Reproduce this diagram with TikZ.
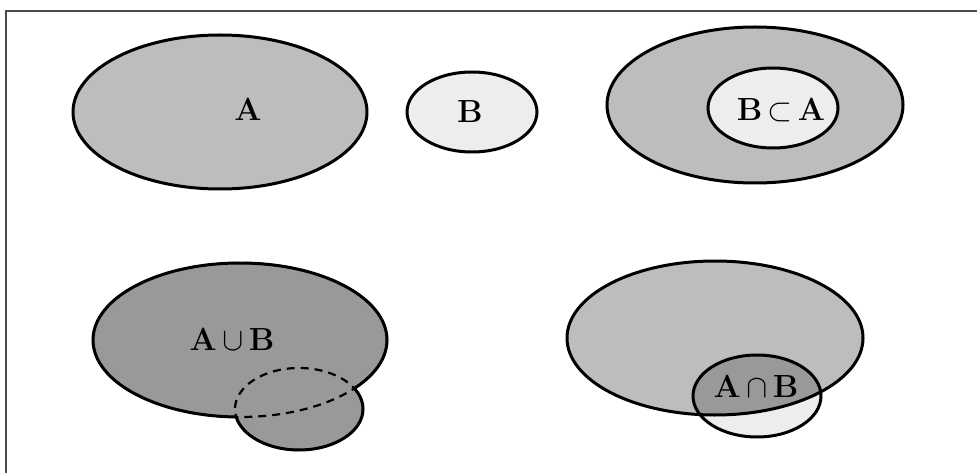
\documentclass[tikz,border=0pt]{standalone}
\usepackage{fontspec}
\usepackage{unicode-math}
\begin{document}
\begin{tikzpicture}[x=1pt,y=-1pt,
  outline/.style={draw=black,line width=3pt},
  densefill/.style={fill=dense},
  sparsefill/.style={fill=sparse},
  hatchfill/.style={fill=hatch},
  lbl/.style={font=\fontsize{32}{36}\selectfont\bfseries,inner sep=0pt}]
\definecolor{dense}{gray}{0.74}
\definecolor{sparse}{gray}{0.93}
\definecolor{hatch}{gray}{0.60}
\definecolor{framec}{gray}{0.30}
\useasboundingbox (0,0) rectangle (977,473);
\fill[white] (0,0) rectangle (977,473);
% frame
\coordinate (fbl) at (6,473);
\coordinate (ftl) at (6,11);
\coordinate (ftr) at (977,11);
\draw[framec,line width=2.4pt] (fbl) -- (ftl) -- (ftr);

% top-left: A
\coordinate (cA) at (220,112);
\path[densefill,outline] (cA) ellipse (147 and 77);
\node[lbl] (lA) at (248,109) {A};

% top-middle: B
\coordinate (cB) at (472,112);
\path[sparsefill,outline] (cB) ellipse (65 and 40);
\node[lbl] (lB) at (470,112) {B};

% top-right: B subset A
\coordinate (cA2) at (755,105);
\coordinate (cB2) at (773,108);
\path[densefill,outline] (cA2) ellipse (148 and 78);
\path[sparsefill,outline] (cB2) ellipse (65 and 40);
\node[lbl] (lBA) at (781,110) {B\,$\subset$\,A};

% bottom-left: union
\coordinate (cA3) at (240,340);
\coordinate (cB3) at (299,409);
\path[hatchfill] (cA3) ellipse (147 and 77);
\path[hatchfill] (cB3) ellipse (64 and 41);
\draw[line width=2.2pt,dash pattern=on 8pt off 6pt] (cA3) ellipse (147 and 77);
\draw[line width=2.2pt,dash pattern=on 8pt off 6pt] (cB3) ellipse (64 and 41);
\begin{scope}
  \clip (0,0) rectangle (977,473) (cB3) ellipse (64 and 41);
  \draw[outline] (cA3) ellipse (147 and 77);
\end{scope}
\begin{scope}
  \clip (0,0) rectangle (977,473) (cA3) ellipse (147 and 77);
  \draw[outline] (cB3) ellipse (64 and 41);
\end{scope}
\node[lbl] (lU) at (232,340) {A\,$\cup$\,B};

% bottom-right: intersection
\coordinate (cA4) at (715,338);
\coordinate (cB4) at (757,396);
\path[densefill] (cA4) ellipse (148 and 77);
\path[sparsefill] (cB4) ellipse (64 and 41);
\begin{scope}
  \clip (cA4) ellipse (148 and 77);
  \path[hatchfill] (cB4) ellipse (64 and 41);
\end{scope}
\draw[outline] (cA4) ellipse (148 and 77);
\draw[outline] (cB4) ellipse (64 and 41);
\node[lbl] (lI) at (756,387) {A\,$\cap$\,B};
\end{tikzpicture}
\end{document}
